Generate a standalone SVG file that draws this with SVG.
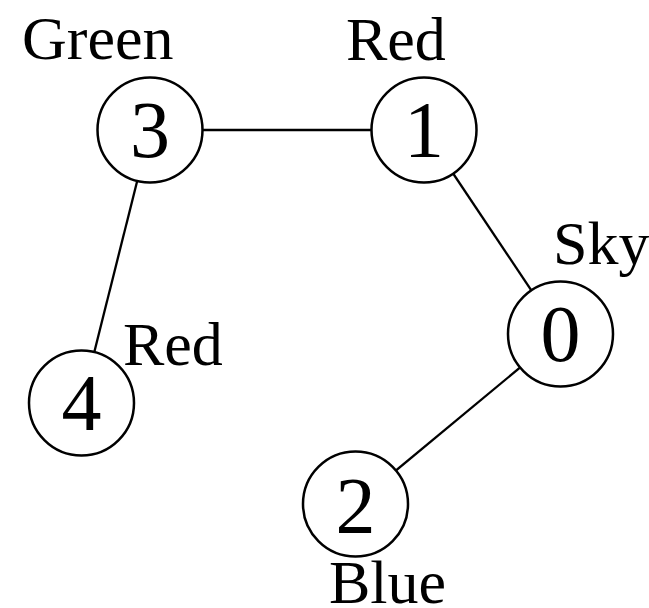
<svg xmlns="http://www.w3.org/2000/svg" width="649" height="608" viewBox="0 0 649 608">
  <style>
    .edge { stroke: #000; stroke-width: 2.3; fill: none; }
    .node circle { fill: #fff; stroke: #000; stroke-width: 2.5; }
    .num { font-family: "Liberation Serif", "Times New Roman", serif; font-size: 80px; text-anchor: middle; fill: #000; }
    .lbl { font-family: "Liberation Serif", "Times New Roman", serif; font-size: 62px; fill: #000; }
  </style>
  <rect width="649" height="608" fill="#fff"/>
  <g id="edges">
    <line class="edge" x1="150" y1="130" x2="424" y2="130"/>
    <line class="edge" x1="150" y1="130" x2="81.5" y2="403"/>
    <line class="edge" x1="424" y1="130" x2="560.5" y2="334"/>
    <line class="edge" x1="560.5" y1="334" x2="355.5" y2="504"/>
  </g>
  <g id="node3" class="node">
    <circle cx="150" cy="130" r="52.5"/>
    <text class="num" x="150" y="157">3</text>
    <text class="lbl" x="22" y="59">Green</text>
  </g>
  <g id="node1" class="node">
    <circle cx="424" cy="130" r="52.5"/>
    <text class="num" x="424" y="157">1</text>
    <text class="lbl" x="346" y="60">Red</text>
  </g>
  <g id="node0" class="node">
    <circle cx="560.5" cy="334" r="52.5"/>
    <text class="num" x="560.5" y="361">0</text>
    <text class="lbl" x="553" y="264">Sky</text>
  </g>
  <g id="node4" class="node">
    <circle cx="81.5" cy="403" r="52.5"/>
    <text class="num" x="81.5" y="430">4</text>
    <text class="lbl" x="123" y="365">Red</text>
  </g>
  <g id="node2" class="node">
    <circle cx="355.5" cy="504" r="52.5"/>
    <text class="num" x="355.5" y="533">2</text>
    <text class="lbl" x="329" y="603">Blue</text>
  </g>
</svg>
